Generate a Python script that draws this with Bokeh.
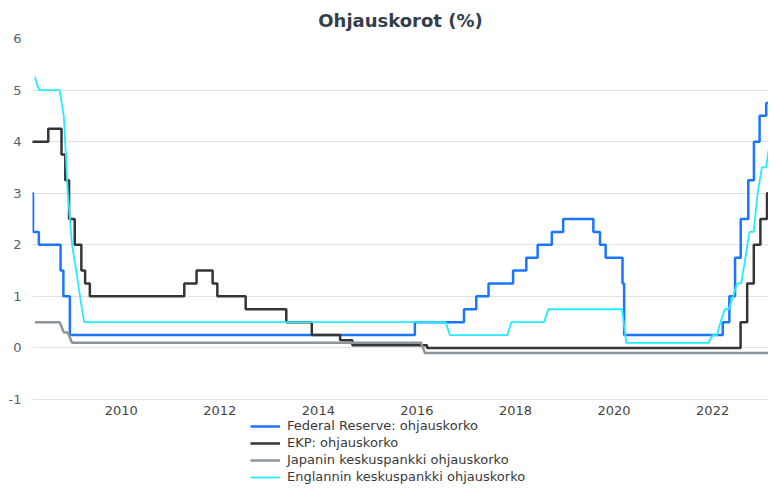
import pandas as pd
from bokeh.plotting import figure
from bokeh.models import (Range1d, FixedTicker, DatetimeTickFormatter, PrintfTickFormatter,
                          Legend, LegendItem)
from bokeh.embed import file_html
from bokeh.resources import INLINE

# ---------------- data ----------------
title_text = "Ohjauskorot (%)"

x_start = "2008-03-14"
x_end = "2023-02-19"

tick_years = [2010, 2012, 2014, 2016, 2018, 2020, 2022]
y_ticks = [-1, 0, 1, 2, 3, 4, 5, 6]
y_top = 6
y_axis_at = -1
y_bottom = -2.648   # room under the -1 line for the legend

# Federal Reserve: change dates and the new level (step series)
fed_dates = ["2008-03-01", "2008-03-18", "2008-04-30", "2008-10-08", "2008-10-29",
             "2008-12-16", "2015-12-17", "2016-12-15", "2017-03-16", "2017-06-15",
             "2017-12-14", "2018-03-22", "2018-06-14", "2018-09-27", "2018-12-20",
             "2019-08-01", "2019-09-19", "2019-10-31", "2020-03-04", "2020-03-16",
             "2022-03-17", "2022-05-05", "2022-06-16", "2022-07-28", "2022-09-22",
             "2022-11-03", "2022-12-15", "2023-02-02", "2023-02-25"]
fed_rate = [3.00, 2.25, 2.00, 1.50, 1.00,
            0.25, 0.50, 0.75, 1.00, 1.25,
            1.50, 1.75, 2.00, 2.25, 2.50,
            2.25, 2.00, 1.75, 1.25, 0.25,
            0.50, 1.00, 1.75, 2.50, 3.25,
            4.00, 4.50, 4.75, 4.75]

# EKP: change dates and the new level (step series)
ecb_dates = ["2008-03-01", "2008-07-09", "2008-10-15", "2008-11-12", "2008-12-10",
             "2009-01-21", "2009-03-11", "2009-04-08", "2009-05-13", "2011-04-13",
             "2011-07-13", "2011-11-09", "2011-12-14", "2012-07-11", "2013-05-08",
             "2013-11-13", "2014-06-11", "2014-09-10", "2016-03-16", "2022-07-27",
             "2022-09-14", "2022-11-02", "2022-12-21", "2023-02-08", "2023-02-25"]
ecb_rate = [4.00, 4.25, 3.75, 3.25, 2.50,
            2.00, 1.50, 1.25, 1.00, 1.25,
            1.50, 1.25, 1.00, 0.75, 0.50,
            0.25, 0.15, 0.05, 0.00, 0.50,
            1.25, 2.00, 2.50, 3.00, 3.00]

# Japanin keskuspankki: monthly points (vertices of the drawn line)
boj_dates = ["2008-04-01", "2008-10-01", "2008-11-01", "2008-12-01", "2009-01-01",
             "2016-02-01", "2016-03-01", "2023-03-01"]
boj_rate = [0.50, 0.50, 0.30, 0.30, 0.10,
            0.10, -0.10, -0.10]

# Englannin keskuspankki: monthly points (vertices of the drawn line)
boe_dates = ["2008-04-01", "2008-05-01", "2008-10-01", "2008-11-01", "2008-12-01",
             "2009-01-01", "2009-02-01", "2009-03-01", "2009-04-01", "2016-08-01",
             "2016-09-01", "2017-11-01", "2017-12-01", "2018-08-01", "2018-09-01",
             "2020-03-01", "2020-04-01", "2021-12-01", "2022-01-01", "2022-02-01",
             "2022-03-01", "2022-04-01", "2022-05-01", "2022-06-01", "2022-07-01",
             "2022-08-01", "2022-09-01", "2022-10-01", "2022-11-01", "2022-12-01",
             "2023-01-01", "2023-02-01", "2023-03-01"]
boe_rate = [5.25, 5.00, 5.00, 4.50, 3.00,
            2.00, 1.50, 1.00, 0.50, 0.50,
            0.25, 0.25, 0.50, 0.50, 0.75,
            0.75, 0.10, 0.10, 0.25, 0.25,
            0.50, 0.75, 0.75, 1.00, 1.25,
            1.25, 1.75, 2.25, 2.25, 3.00,
            3.50, 3.50, 4.00]

series_labels = ["Federal Reserve: ohjauskorko", "EKP: ohjauskorko",
                 "Japanin keskuspankki ohjauskorko", "Englannin keskuspankki ohjauskorko"]

# ---------------- helpers ----------------
def ms(d):
    return pd.Timestamp(d).value / 1e6

def to_dt(lst):
    return pd.to_datetime(lst)

FONT = "DejaVu Sans"

p = figure(width=768, height=484, x_axis_type="datetime",
           output_backend="svg", toolbar_location=None,
           x_range=Range1d(ms(x_start), ms(x_end)), y_range=Range1d(y_bottom, y_top),
           min_border_left=24, min_border_right=0, min_border_top=0, min_border_bottom=0)

p.title.text = title_text
p.title.align = "center"
p.title.text_font = FONT
p.title.text_font_size = "18px"
p.title.text_font_style = "bold"
p.title.text_color = "#333e4a"
p.title.standoff = 15

p.outline_line_color = None
p.background_fill_color = "white"
p.border_fill_color = "white"

p.xgrid.grid_line_color = None
p.ygrid.grid_line_color = "#c4c4c4"
p.ygrid.grid_line_dash = "1 1"
p.ygrid.grid_line_width = 1

p.yaxis.ticker = FixedTicker(ticks=y_ticks)
p.yaxis.formatter = PrintfTickFormatter(format="%d")
p.xaxis.ticker = FixedTicker(ticks=[ms(f"{y}-01-01") for y in tick_years])
p.xaxis.fixed_location = y_axis_at
fmt = "%Y"
p.xaxis.formatter = DatetimeTickFormatter(years=fmt, months=fmt, days=fmt, hours=fmt,
                                          minutes=fmt, seconds=fmt, milliseconds=fmt,
                                          microseconds=fmt, hourmin=fmt, minsec=fmt)
for ax in (p.xaxis, p.yaxis):
    ax.axis_line_color = None
    ax.major_tick_line_color = None
    ax.minor_tick_line_color = None
    ax.major_label_text_font = FONT
    ax.major_label_text_font_size = "13px"
p.yaxis.major_label_text_color = "#56616c"
p.xaxis.major_label_text_color = "#444444"
p.yaxis.major_label_standoff = 5
p.xaxis.major_label_standoff = 0
# invisible spacer label so the left panel is as wide as in the reference
p.yaxis.axis_label = "\u00a0"
p.yaxis.axis_label_text_font_size = "1px"
p.yaxis.axis_label_standoff = 1

r_fed = p.step(to_dt(fed_dates), fed_rate, mode="after", line_color="#1a75ff", line_width=2.5)
r_ecb = p.step(to_dt(ecb_dates), ecb_rate, mode="after", line_color="#353535", line_width=2.5)
r_boj = p.line(to_dt(boj_dates), boj_rate, line_color="#8c949c", line_width=2.5)
r_boe = p.line(to_dt(boe_dates), boe_rate, line_color="#22eeff", line_width=1.8)

legend = Legend(items=[LegendItem(label=series_labels[0], renderers=[r_fed]),
                       LegendItem(label=series_labels[1], renderers=[r_ecb]),
                       LegendItem(label=series_labels[2], renderers=[r_boj]),
                       LegendItem(label=series_labels[3], renderers=[r_boe])],
                orientation="vertical", location=(218, 0))
legend.label_text_font = FONT
legend.label_text_font_size = "13px"
legend.label_text_color = "#3a3a3a"
legend.glyph_width = 30
legend.glyph_height = 14
legend.label_height = 14
legend.spacing = 2
legend.label_standoff = 7
legend.padding = 0
legend.margin = 0
legend.border_line_color = None
legend.background_fill_alpha = 0
p.add_layout(legend, "center")

open("out.html", "w").write(file_html(p, INLINE))
